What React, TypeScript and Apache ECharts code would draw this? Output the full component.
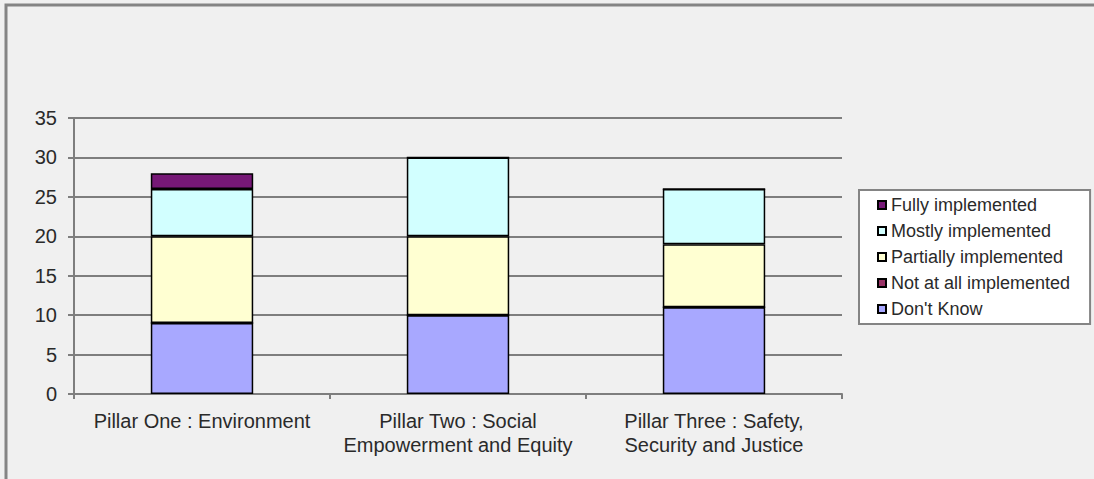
import React, { useEffect, useRef } from "react";
import * as echarts from "echarts";

const categories = [
  "Pillar One : Environment",
  "Pillar Two : Social\nEmpowerment and Equity",
  "Pillar Three : Safety,\nSecurity and Justice",
];
const dontKnow = [9, 10, 11];
const notAtAll = [0, 0, 0];
const partially = [11, 10, 8];
const mostly = [6, 10, 7];
const fully = [2, 0, 0];
const legendOrder = [
  "Fully implemented",
  "Mostly implemented",
  "Partially implemented",
  "Not at all implemented",
  "Don't Know",
];

const FONT = "'Liberation Sans', Arial, sans-serif";

export default function App() {
  const ref = useRef<HTMLDivElement>(null);
  useEffect(() => {
    if (!ref.current) return;
    const chart = echarts.init(ref.current, null, { renderer: "svg" });
    const mk = (name: string, data: number[], color: string) => ({
      name,
      type: "bar",
      stack: "total",
      barWidth: "40%",
      data,
      itemStyle: { color, borderColor: "#000", borderWidth: 1.5 },
    });
    chart.setOption({
      animation: false,
      backgroundColor: "#f0f0f0",
      textStyle: { fontFamily: FONT },
      graphic: [
        {
          type: "polyline",
          shape: { points: [[6, 479], [6, 5], [1094, 5]] },
          style: { stroke: "#848484", lineWidth: 3, fill: null },
        },
      ],
      grid: { left: 74, top: 118, right: 252, bottom: 85, containLabel: false },
      legend: {
        orient: "vertical",
        left: 859,
        top: 190,
        data: legendOrder,
        icon: "rect",
        itemWidth: 8,
        itemHeight: 8,
        itemGap: 8,
        padding: [6, 20, 6, 18],
        backgroundColor: "#ffffff",
        borderColor: "#848484",
        borderWidth: 2,
        textStyle: { fontSize: 18, lineHeight: 18, color: "#2a2a2a", fontFamily: FONT },
      },
      xAxis: {
        type: "category",
        data: categories,
        axisLine: { lineStyle: { color: "#7e7e7e", width: 2 } },
        axisTick: { show: true, length: 5, lineStyle: { color: "#7e7e7e", width: 2 } },
        axisLabel: {
          fontSize: 20,
          lineHeight: 24,
          color: "#2a2a2a",
          margin: 15,
          interval: 0,
          fontFamily: FONT,
        },
        splitLine: { show: false },
      },
      yAxis: {
        type: "value",
        min: 0,
        max: 35,
        interval: 5,
        axisLine: { show: true, lineStyle: { color: "#7e7e7e", width: 2 } },
        axisTick: { show: true, length: 6, lineStyle: { color: "#7e7e7e", width: 2 } },
        axisLabel: { fontSize: 20, color: "#2a2a2a", margin: 17, fontFamily: FONT },
        splitLine: { show: true, lineStyle: { color: "#7e7e7e", width: 2 } },
      },
      series: [
        mk("Don't Know", dontKnow, "#a8a8ff"),
        mk("Not at all implemented", notAtAll, "#993366"),
        mk("Partially implemented", partially, "#ffffd2"),
        mk("Mostly implemented", mostly, "#d2ffff"),
        mk("Fully implemented", fully, "#761876"),
      ],
    });
    return () => chart.dispose();
  }, []);
  return (
    <div
      ref={ref}
      style={{ position: "fixed", left: 0, top: 0, width: 1094, height: 479 }}
    />
  );
}
